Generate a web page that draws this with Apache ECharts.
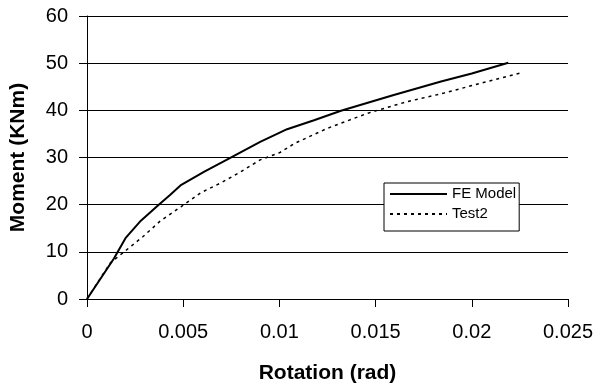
<!DOCTYPE html>
<html>
<head>
<meta charset="utf-8">
<script src="https://cdn.jsdelivr.net/npm/echarts@6/dist/echarts.min.js"></script>
<style>html,body{margin:0;padding:0;background:#fff}#c{width:602px;height:389px}</style>
</head>
<body>
<div id="c"></div>
<script>
var seriesNames = ['FE Model', 'Test2'];
var feRotation = [0, 0.0014, 0.0020, 0.0028, 0.0037, 0.0043, 0.0049, 0.0061, 0.0073, 0.0090, 0.0104, 0.0118, 0.0132, 0.0159, 0.0184, 0.0200, 0.0219];
var feMoment   = [0, 8.6, 12.9, 16.6, 19.9, 22.0, 24.2, 27.0, 29.6, 33.3, 36.0, 37.9, 39.9, 43.2, 46.1, 47.8, 50.1];
var testRotation = [0, 0.0012, 0.0019, 0.0029, 0.0038, 0.0049, 0.0059, 0.0070, 0.0080, 0.0090, 0.0100, 0.0108, 0.0125, 0.0146, 0.0166, 0.0185, 0.0206, 0.0226];
var testMoment   = [0, 7.6, 9.9, 13.2, 16.5, 19.6, 22.5, 24.7, 27.0, 29.5, 31.0, 33.0, 36.2, 39.4, 41.8, 43.6, 45.9, 48.0];
var xTicks = [0, 0.005, 0.01, 0.015, 0.02, 0.025];
var yTicks = [0, 10, 20, 30, 40, 50, 60];

function pairs(xs, ys) { return xs.map(function (x, i) { return [x, ys[i]]; }); }
var FONT = 'Liberation Sans, Arial, sans-serif';
var chart = echarts.init(document.getElementById('c'), null, {renderer: 'canvas'});
chart.setOption({
  animation: false,
  backgroundColor: '#fff',
  color: ['#000', '#000'],
  grid: {left: 86, right: 34, top: 16, bottom: 90},
  legend: {
    orient: 'vertical', left: 384, top: 183,
    data: seriesNames,
    backgroundColor: '#fff', borderColor: '#000', borderWidth: 1, borderRadius: 0,
    padding: [2, 3, 8, 5], itemGap: 2, itemWidth: 57, itemHeight: 18, itemTextGap: 4,
    itemStyle: {opacity: 0},
    textStyle: {fontFamily: FONT, fontSize: 15, color: '#000', lineHeight: 18}
  },
  xAxis: {
    type: 'value', min: xTicks[0], max: xTicks[xTicks.length - 1], interval: 0.005,
    name: 'Rotation (rad)', nameLocation: 'middle', nameGap: 64,
    nameTextStyle: {fontFamily: FONT, fontSize: 21, fontWeight: 'bold', color: '#000'},
    axisLine: {show: true, onZero: false, lineStyle: {color: '#000', width: 1}},
    axisTick: {show: true, length: 8, lineStyle: {color: '#000'}},
    splitLine: {show: false},
    axisLabel: {margin: 23, fontFamily: FONT, fontSize: 20, color: '#000',
      formatter: function (v) { return String(Number(v.toFixed(4))); }}
  },
  yAxis: {
    type: 'value', min: yTicks[0], max: yTicks[yTicks.length - 1], interval: 10,
    name: 'Moment (KNm)', nameLocation: 'middle', nameGap: 58,
    nameTextStyle: {fontFamily: FONT, fontSize: 21, fontWeight: 'bold', color: '#000'},
    axisLine: {show: true, lineStyle: {color: '#000', width: 1}},
    axisTick: {show: true, length: 8, lineStyle: {color: '#000'}},
    splitLine: {show: true, lineStyle: {color: '#000', width: 1}},
    axisLabel: {margin: 19, fontFamily: FONT, fontSize: 20, color: '#000'}
  },
  series: [
    {name: seriesNames[0], type: 'line', data: pairs(feRotation, feMoment), symbol: 'none',
      itemStyle: {color: '#000'},
      lineStyle: {color: '#000', width: 2, type: 'solid'}},
    {name: seriesNames[1], type: 'line', data: pairs(testRotation, testMoment), symbol: 'none',
      itemStyle: {color: '#000'},
      lineStyle: {color: '#000', width: 1.5, type: [3, 4]}}
  ]
});
</script>
</body>
</html>
